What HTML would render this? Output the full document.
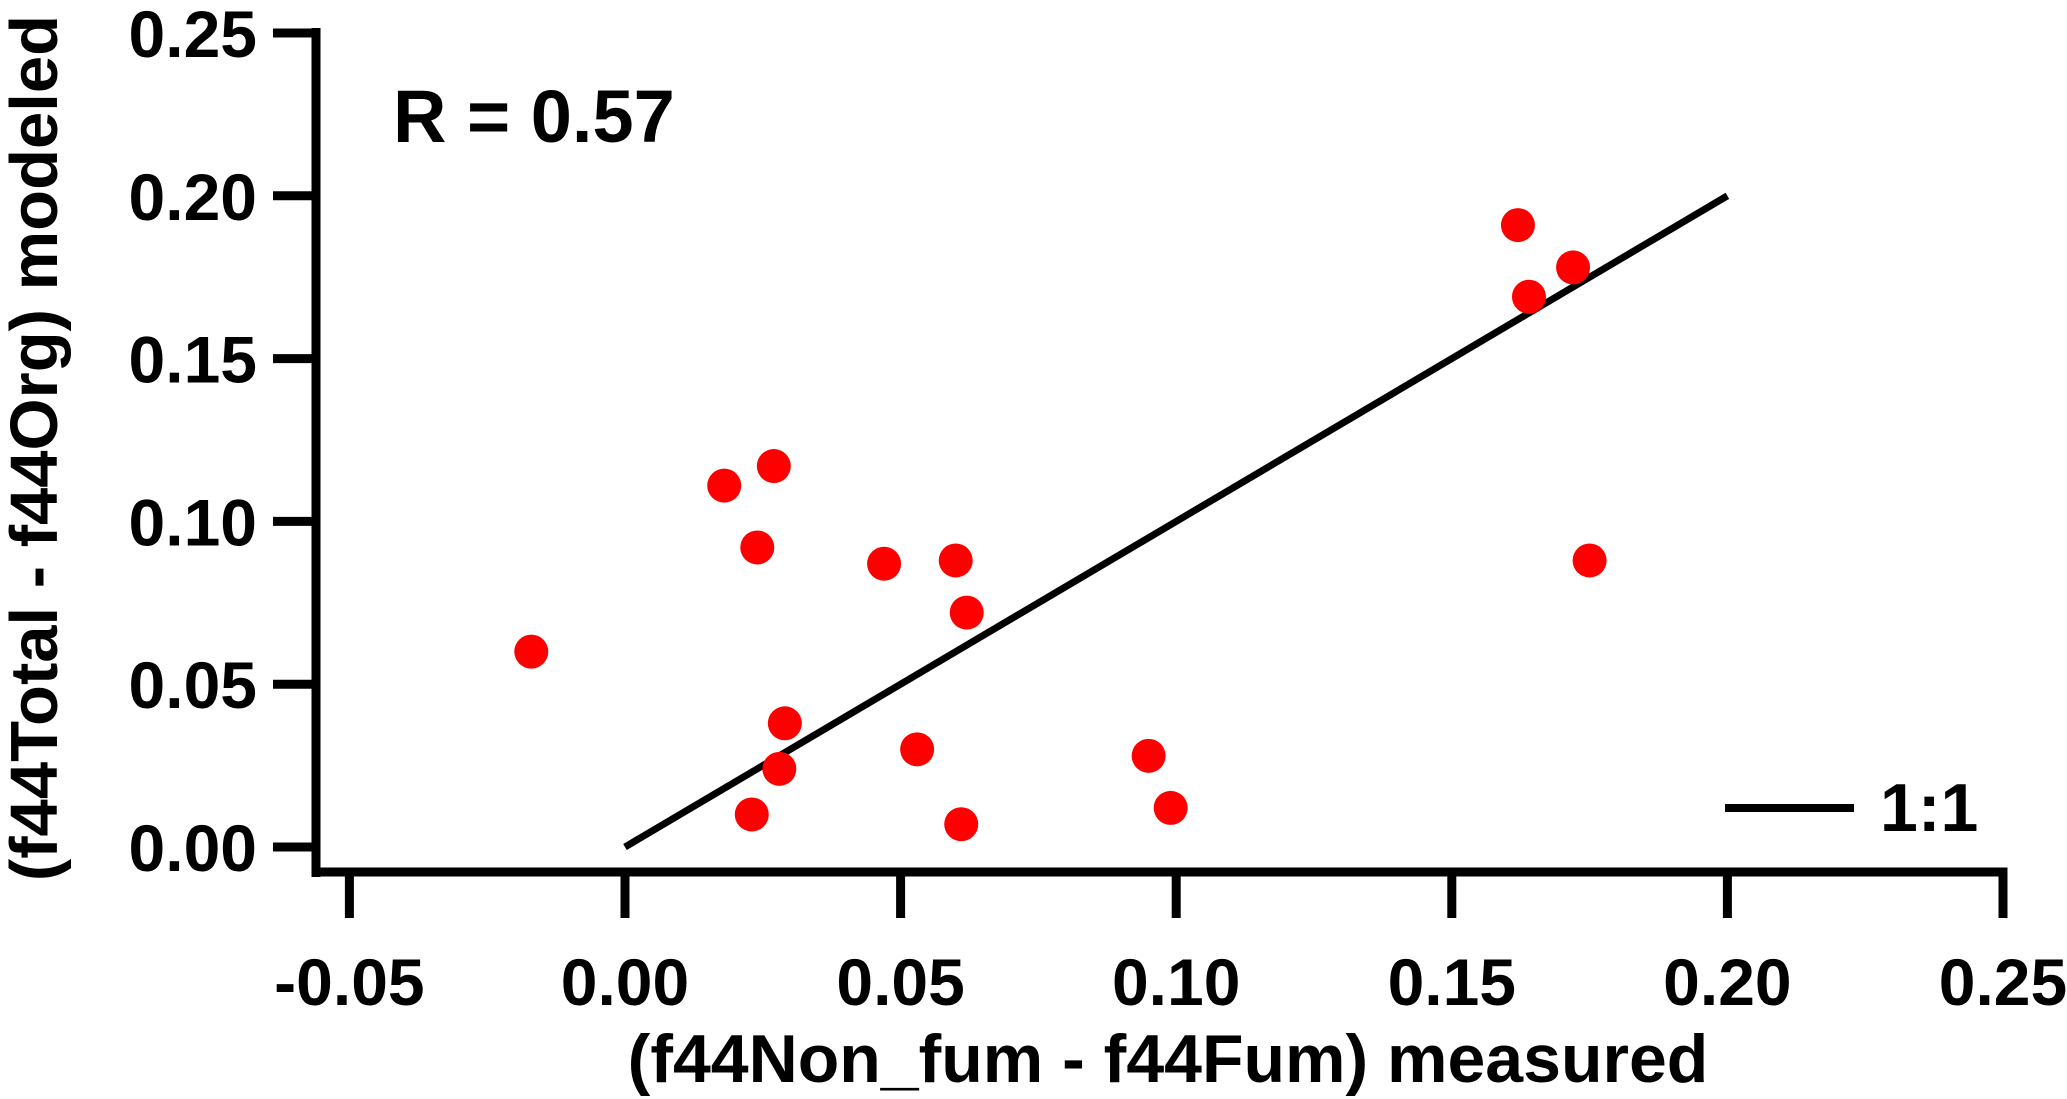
<!DOCTYPE html>
<html><head><meta charset="utf-8"><style>
html,body{margin:0;padding:0;background:#fff;}
svg{display:block;font-family:"Liberation Sans",Arial,sans-serif;font-weight:bold;}
</style></head><body>
<svg id="chart" width="2067" height="1099" viewBox="0 0 2067 1099" xmlns="http://www.w3.org/2000/svg"></svg>
<script>
const xTicks = [-0.05, 0.00, 0.05, 0.10, 0.15, 0.20, 0.25];
const xTickLabels = ["-0.05", "0.00", "0.05", "0.10", "0.15", "0.20", "0.25"];
const yTicks = [0.00, 0.05, 0.10, 0.15, 0.20, 0.25];
const yTickLabels = ["0.00", "0.05", "0.10", "0.15", "0.20", "0.25"];
const measured = [-0.017, 0.018, 0.027, 0.024, 0.047, 0.060, 0.062, 0.029, 0.028, 0.023, 0.053, 0.061, 0.095, 0.099, 0.162, 0.164, 0.172, 0.175];
const modeled  = [0.060, 0.111, 0.117, 0.092, 0.087, 0.088, 0.072, 0.038, 0.024, 0.010, 0.030, 0.007, 0.028, 0.012, 0.191, 0.169, 0.178, 0.088];
const oneToOne = [0.0, 0.2];

const NS = "http://www.w3.org/2000/svg";
const svg = document.getElementById("chart");
const X = v => 625 + (v - 0) * 5512;
const Y = v => 847 - v * 3256;
function mk(tag, attrs, parent) {
  const e = document.createElementNS(NS, tag);
  for (const k in attrs) e.setAttribute(k, attrs[k]);
  (parent || svg).appendChild(e);
  return e;
}
let e;
e = mk("line", {x1: 316, y1: 28, x2: 316, y2: 877, stroke: "#000", "stroke-width": 9});


e = mk("line", {x1: 312, y1: 872, x2: X(0.25) + 4.5, y2: 872, stroke: "#000", "stroke-width": 9});


yTicks.forEach((v, i) => {
  const t = mk("line", {x1: 273, y1: Y(v), x2: 316, y2: Y(v), stroke: "#000", "stroke-width": 9});
  
  
  const l = mk("text", {x: 257, y: Y(v) + 24, "text-anchor": "end", "font-size": 66});
  l.textContent = yTickLabels[i];
  
  
});
xTicks.forEach((v, i) => {
  const t = mk("line", {x1: X(v), y1: 872, x2: X(v), y2: 918, stroke: "#000", "stroke-width": 9});
  
  
  const l = mk("text", {x: X(v), y: 1005, "text-anchor": "middle", "font-size": 66});
  l.textContent = xTickLabels[i];
  
  
});
e = mk("line", {x1: X(oneToOne[0]), y1: Y(oneToOne[0]), x2: X(oneToOne[1]), y2: Y(oneToOne[1]), stroke: "#000", "stroke-width": 7});


measured.forEach((v, i) => {
  const c = mk("circle", {cx: X(v), cy: Y(modeled[i]), r: 17, fill: "#ff0000"});
  
  
});
e = mk("line", {x1: 1725, y1: 808, x2: 1854, y2: 808, stroke: "#000", "stroke-width": 8});


e = mk("text", {x: 1880, y: 831, "font-size": 68});
e.textContent = "1:1";


e = mk("text", {x: 393, y: 142, "font-size": 74});
e.textContent = "R = 0.57";


e = mk("text", {x: 1168, y: 1082, "text-anchor": "middle", "font-size": 68});
e.textContent = "(f44Non_fum - f44Fum) measured";


e = mk("text", {x: 0, y: 0, "text-anchor": "middle", "font-size": 67, transform: "translate(57,448) rotate(-90)"});
e.textContent = "(f44Total - f44Org) modeled";


</script>
</body></html>
